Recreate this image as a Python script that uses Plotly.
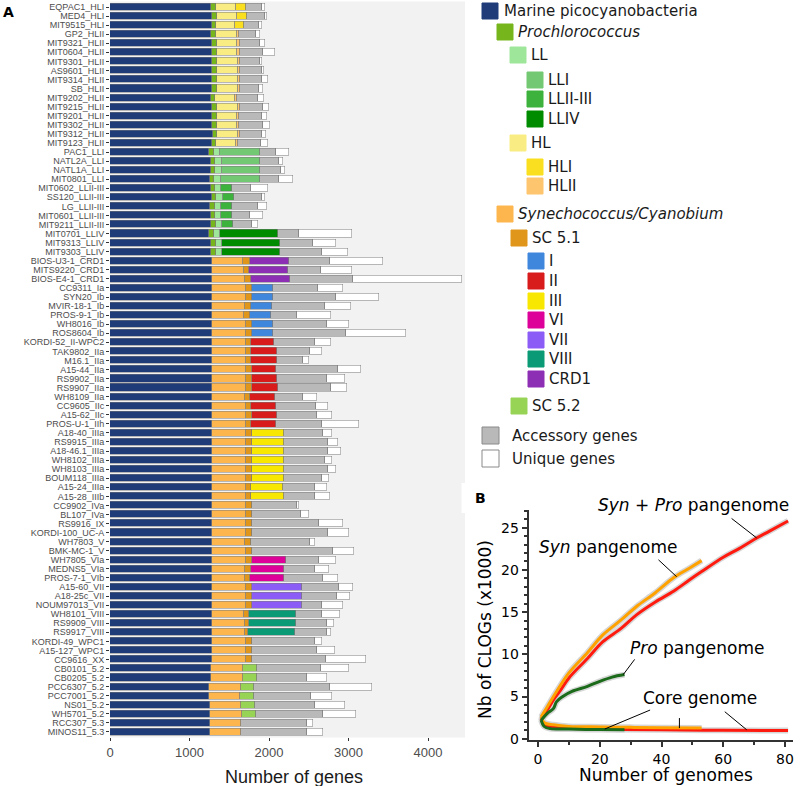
import plotly.graph_objects as go

W, H = 800, 786

# ---------------- Panel A data ----------------
strains = [
    "EQPAC1_HLI", "MED4_HLI", "MIT9515_HLI", "GP2_HLII", "MIT9321_HLII", "MIT0604_HLII",
    "MIT9301_HLII", "AS9601_HLII", "MIT9314_HLII", "SB_HLII", "MIT9202_HLII", "MIT9215_HLII",
    "MIT9201_HLII", "MIT9302_HLII", "MIT9312_HLII", "MIT9123_HLII", "PAC1_LLI", "NATL2A_LLI",
    "NATL1A_LLI", "MIT0801_LLI", "MIT0602_LLII-III", "SS120_LLII-III", "LG_LLII-III",
    "MIT0601_LLII-III", "MIT9211_LLII-III", "MIT0701_LLIV", "MIT9313_LLIV", "MIT9303_LLIV",
    "BIOS-U3-1_CRD1", "MITS9220_CRD1", "BIOS-E4-1_CRD1", "CC9311_Ia", "SYN20_Ib", "MVIR-18-1_Ib",
    "PROS-9-1_Ib", "WH8016_Ib", "ROS8604_Ib", "KORDI-52_II-WPC2", "TAK9802_IIa", "M16.1_IIa",
    "A15-44_IIa", "RS9902_IIa", "RS9907_IIa", "WH8109_IIa", "CC9605_IIc", "A15-62_IIc",
    "PROS-U-1_IIh", "A18-40_IIIa", "RS9915_IIIa", "A18-46.1_IIIa", "WH8102_IIIa", "WH8103_IIIa",
    "BOUM118_IIIa", "A15-24_IIIa", "A15-28_IIIb", "CC9902_IVa", "BL107_IVa", "RS9916_IX",
    "KORDI-100_UC-A", "WH7803_V", "BMK-MC-1_V", "WH7805_VIa", "MEDNS5_VIa", "PROS-7-1_VIb",
    "A15-60_VII", "A18-25c_VII", "NOUM97013_VII", "WH8101_VIII", "RS9909_VIII", "RS9917_VIII",
    "KORDI-49_WPC1", "A15-127_WPC1", "CC9616_XX", "CB0101_5.2", "CB0205_5.2", "PCC6307_5.2",
    "PCC7001_5.2", "NS01_5.2", "WH5701_5.2", "RCC307_5.3", "MINOS11_5.3",
]

genus = ["Prochlorococcus"] * 28 + ["Synechococcus/Cyanobium"] * 53
subgroup = ["HL"] * 16 + ["LL"] * 12 + ["SC 5.1"] * 45 + ["SC 5.2"] * 6 + [None] * 2
clade = (["HLI"] * 3 + ["HLII"] * 13 + ["LLI"] * 4 + ["LLII-III"] * 5 + ["LLIV"] * 3 +
         ["CRD1"] * 3 + ["I"] * 6 + ["II"] * 10 + ["III"] * 8 + [None] * 6 +
         ["VI"] * 3 + ["VII"] * 3 + ["VIII"] * 3 + [None] * 11)

core_marine = [
    1270, 1287, 1283, 1270, 1283, 1283, 1287, 1283, 1283, 1283, 1266, 1283, 1283, 1283, 1291, 1283,
    1249, 1266, 1266, 1258, 1266, 1279, 1258, 1266, 1275, 1249, 1275, 1275,
    1283, 1283, 1283,
    1287, 1287, 1287, 1287, 1287, 1287,
    1287, 1287, 1287, 1287, 1287, 1287, 1287, 1287, 1287, 1287,
    1287, 1287, 1287, 1287, 1287, 1287, 1287, 1287,
    1287, 1287, 1287, 1287, 1287, 1287,
    1287, 1287, 1287,
    1287, 1287, 1287,
    1279, 1283, 1283,
    1287, 1287, 1287,
    1266, 1266, 1249, 1241, 1258, 1258,
    1258, 1258,
]
core_genus = [
    59, 55, 50, 59, 59, 59, 59, 59, 59, 59, 50, 59, 59, 59, 55, 55,
    59, 55, 55, 55, 55, 59, 59, 55, 55, 55, 55, 55,
    394, 403, 411,
    419, 428, 415, 403, 419, 419,
    419, 419, 419, 419, 419, 419, 411, 419, 419, 419,
    428, 428, 419, 419, 419, 419, 419, 419,
    419, 419, 419, 419, 411, 419,
    428, 411, 411,
    428, 428, 428,
    411, 415, 415,
    419, 419, 419,
    403, 403, 394, 390, 394, 407,
    386, 386,
]
core_subgroup = [
    260, 260, 235, 264, 256, 256, 260, 264, 264, 264, 252, 264, 252, 256, 260, 243,
    80, 88, 88, 88, 80, 88, 84, 80, 84, 84, 84, 84,
    80, 63, 84,
    75, 75, 75, 75, 84, 84,
    67, 67, 67, 84, 75, 84, 67, 71, 75, 67,
    75, 75, 84, 84, 84, 84, 71, 71,
    75, 75, 75, 75, 75, 84,
    75, 75, 67,
    75, 75, 75,
    55, 46, 38,
    75, 75, 75,
    176, 176, 168, 176, 168, 168,
    None, None,
]
core_clade = [
    117, 117, 113, 25, 34, 34, 29, 25, 25, 25, 34, 29, 34, 29, 29, 29,
    495, 482, 482, 491, 134, 130, 130, 130, 130, 725, 725, 725,
    491, 486, 482,
    264, 260, 256, 260, 256, 260,
    294, 327, 323, 302, 323, 319, 306, 306, 319, 310,
    394, 394, 394, 394, 394, 394, 398, 407,
    None, None, None, None, None, None,
    419, 419, 419,
    621, 621, 621,
    591, 591, 591,
    None, None, None,
    None, None, None, None, None, None,
    None, None,
]
accessory = [
    201, 235, 189, 214, 252, 298, 247, 281, 285, 239, 264, 294, 281, 294, 273, 294,
    210, 231, 260, 239, 239, 356, 327, 226, 239, 268, 411, 524,
    524, 419, 792,
    566, 792, 671, 327, 679, 914,
    507, 419, 327, 772, 621, 671, 352, 512, 503, 579,
    491, 553, 562, 516, 553, 478, 398, 398,
    574, 616, 843, 956, 738, 1019,
    423, 382, 491,
    465, 440, 260,
    327, 390, 398,
    792, 826, 931,
    809, 629, 952, 725, 759, 843,
    834, 839,
]
unique = [
    42, 17, 46, 50, 63, 143, 29, 21, 67, 59, 75, 67, 63, 88, 59, 88,
    164, 50, 46, 168, 218, 34, 113, 168, 80, 667, 289, 327,
    667, 390, 1380,
    323, 545, 331, 428, 277, 763,
    210, 143, 84, 294, 231, 197, 180, 143, 184, 465,
    122, 130, 164, 88, 101, 88, 151, 184,
    25, 101, 302, 273, 71, 264,
    214, 176, 197,
    184, 164, 264,
    226, 88, 55,
    96, 226, 503,
    356, 252, 528, 264, 382, 415,
    80, 193,
]

gene_ticks = [0, 1000, 2000, 3000, 4000]

colors = {
    "Marine picocyanobacteria": "#1f3c78",
    "Prochlorococcus": "#76b51c",
    "LL": "#9ee69a",
    "LLI": "#73c973",
    "LLII-III": "#3db23d",
    "LLIV": "#008c00",
    "HL": "#f8ec82",
    "HLI": "#f9df1f",
    "HLII": "#fec56f",
    "Synechococcus/Cyanobium": "#fdb64e",
    "SC 5.1": "#df961a",
    "I": "#3f87dc",
    "II": "#d81b1b",
    "III": "#f8e700",
    "VI": "#dd0099",
    "VII": "#8c5cf7",
    "VIII": "#0a9a75",
    "CRD1": "#8d2fb5",
    "SC 5.2": "#97d456",
    "Accessory genes": "#b9b9b9",
    "Unique genes": "#ffffff",
}

# ---------------- Panel B data ----------------
synpro_pan_x = [1, 3, 5, 7, 10, 16, 21, 27, 32, 38, 44, 49, 53, 60, 65, 70, 75, 81]
synpro_pan_y = [2.4, 3.4, 4.6, 5.6, 7.2, 9.5, 11.5, 13.1, 14.7, 16.2, 17.5, 18.8, 19.8, 21.5, 22.5, 23.6, 24.6, 25.8]
syn_pan_x = [1, 3, 6, 10, 16, 21, 27, 32, 38, 44, 49, 53]
syn_pan_y = [2.6, 3.8, 5.6, 7.8, 10.2, 12.3, 14.1, 15.7, 17.3, 19.1, 20.2, 21.1]
pro_pan_x = [1, 3, 5, 6, 8, 11, 16, 20, 24, 28]
pro_pan_y = [2.2, 3.0, 3.6, 4.4, 5.0, 5.6, 6.2, 6.8, 7.3, 7.6]
synpro_core_x = [1, 2, 5, 10, 20, 28, 40, 60, 81]
synpro_core_y = [2.4, 1.7, 1.4, 1.25, 1.15, 1.1, 1.05, 1.0, 0.98]
syn_core_x = [1, 2, 5, 10, 21, 30, 40, 53]
syn_core_y = [2.6, 1.9, 1.65, 1.45, 1.4, 1.35, 1.3, 1.26]
pro_core_x = [1, 2, 4, 10, 20, 28]
pro_core_y = [2.2, 1.45, 1.2, 1.15, 1.08, 1.05]

# ---------------- helpers ----------------
def px(x):
    return x / W


def py(y):
    return 1 - y / H


fig = go.Figure()

ypos = list(range(len(strains)))
segments = [
    (core_marine, [colors["Marine picocyanobacteria"]] * len(strains)),
    (core_genus, [colors[g] for g in genus]),
    (core_subgroup, [colors[s] if s else "#ffffff" for s in subgroup]),
    (core_clade, [colors[c] if c else "#ffffff" for c in clade]),
    (accessory, [colors["Accessory genes"]] * len(strains)),
    (unique, [colors["Unique genes"]] * len(strains)),
]
for vals, cols in segments:
    fig.add_trace(go.Bar(
        y=ypos, x=vals, orientation="h", width=0.78,
        marker=dict(color=cols, line=dict(color="#7a7a7a", width=0.5)),
        xaxis="x", yaxis="y", showlegend=False, hoverinfo="x+y",
    ))

# Panel B: gray bands then lines
bands = [(synpro_pan_x, synpro_pan_y), (syn_pan_x, syn_pan_y), (pro_pan_x, pro_pan_y),
         (synpro_core_x, synpro_core_y), (syn_core_x, syn_core_y), (pro_core_x, pro_core_y)]
for bx, by in bands:
    fig.add_trace(go.Scatter(x=bx, y=by, mode="lines", line=dict(color="#d6d6d6", width=6, shape="spline"),
                             xaxis="x2", yaxis="y2", showlegend=False, hoverinfo="skip"))
lines = [
    (synpro_pan_x, synpro_pan_y, "#ff1a0f"),
    (synpro_core_x, synpro_core_y, "#ff1a0f"),
    (syn_pan_x, syn_pan_y, "#ffa200"),
    (syn_core_x, syn_core_y, "#ffa200"),
    (pro_pan_x, pro_pan_y, "#1b6b1b"),
    (pro_core_x, pro_core_y, "#1b6b1b"),
]
for lx, ly, c in lines:
    fig.add_trace(go.Scatter(x=lx, y=ly, mode="lines", line=dict(color=c, width=3, shape="spline"),
                             xaxis="x2", yaxis="y2", showlegend=False))

shapes = []
annotations = []

# Panel A background
shapes.append(dict(type="rect", xref="x domain", yref="y domain", x0=0, x1=1, y0=0, y1=1,
                   fillcolor="#f2f2f2", line=dict(width=0), layer="below"))
shapes.append(dict(type="rect", xref="paper", yref="paper", x0=px(461.5), x1=px(470), y0=py(513), y1=py(483),
                   fillcolor="#ffffff", line=dict(width=0), layer="below"))

# Custom legend
legend_items = [
    ("Marine picocyanobacteria", 482, 11, 502, False),
    ("Prochlorococcus", 497, 32, 516, True),
    ("LL", 510, 55, 529, False),
    ("LLI", 527, 80, 546, False),
    ("LLII-III", 527, 99, 546, False),
    ("LLIV", 527, 119, 546, False),
    ("HL", 510, 143, 529, False),
    ("HLI", 527, 167, 546, False),
    ("HLII", 527, 186, 546, False),
    ("Synechococcus/Cyanobium", 497, 214, 516, True),
    ("SC 5.1", 511, 238, 530, False),
    ("I", 528, 261, 547, False),
    ("II", 528, 281, 547, False),
    ("III", 528, 301, 547, False),
    ("VI", 528, 320, 547, False),
    ("VII", 528, 340, 547, False),
    ("VIII", 528, 359, 547, False),
    ("CRD1", 528, 379, 547, False),
    ("SC 5.2", 511, 406, 530, False),
    ("Accessory genes", 482, 435.5, 510, False),
    ("Unique genes", 482, 458.5, 510, False),
]
for name, sx, cy, tx, ital in legend_items:
    size = 17 if name in ("Accessory genes", "Unique genes") else 16
    edge = "#8a8a8a" if name in ("Accessory genes", "Unique genes") else colors[name]
    shapes.append(dict(type="rect", xref="paper", yref="paper",
                       x0=px(sx), x1=px(sx + size), y0=py(cy + size / 2), y1=py(cy - size / 2),
                       fillcolor=colors[name], line=dict(color=edge, width=1)))
    text = f"<i>{name}</i>" if ital else name
    annotations.append(dict(xref="paper", yref="paper", x=px(tx), y=py(cy), text=text, showarrow=False,
                            xanchor="left", yanchor="middle",
                            font=dict(family="DejaVu Sans", size=15, color="#1a1a1a")))

# Panel labels and titles
annotations += [
    dict(xref="paper", yref="paper", x=px(8), y=py(11.5), text="<b>A</b>", showarrow=False,
         xanchor="center", yanchor="middle", font=dict(family="DejaVu Sans", size=14, color="#000")),
    dict(xref="paper", yref="paper", x=px(481), y=py(498), text="<b>B</b>", showarrow=False,
         xanchor="center", yanchor="middle", font=dict(family="DejaVu Sans", size=14, color="#000")),
    dict(xref="paper", yref="paper", x=px(293.5), y=py(777), text="Number of genes", showarrow=False,
         xanchor="center", yanchor="middle", font=dict(family="Liberation Sans", size=18, color="#1a1a1a")),
    dict(xref="paper", yref="paper", x=px(665.5), y=py(775), text="Number of genomes", showarrow=False,
         xanchor="center", yanchor="middle", font=dict(family="DejaVu Sans", size=17, color="#000")),
    dict(xref="paper", yref="paper", x=px(485), y=py(629), text="Nb of CLOGs (x1000)", showarrow=False,
         textangle=-90, xanchor="center", yanchor="middle", font=dict(family="DejaVu Sans", size=17, color="#000")),
]

# Panel B curve labels and leader lines
bfont = dict(family="DejaVu Sans", size=17, color="#000")
annotations += [
    dict(xref="paper", yref="paper", x=px(693), y=py(505), text="<i>Syn</i> + <i>Pro</i> pangenome",
         showarrow=False, xanchor="center", yanchor="middle", font=bfont),
    dict(xref="paper", yref="paper", x=px(607.5), y=py(546.5), text="<i>Syn</i> pangenome",
         showarrow=False, xanchor="center", yanchor="middle", font=bfont),
    dict(xref="paper", yref="paper", x=px(697), y=py(648), text="<i>Pro</i> pangenome",
         showarrow=False, xanchor="center", yanchor="middle", font=bfont),
    dict(xref="paper", yref="paper", x=px(700), y=py(698), text="Core genome",
         showarrow=False, xanchor="center", yanchor="middle", font=bfont),
]
leaders = [
    (62.7, 26.1, 70.8, 23.8),
    (39.0, 21.2, 44.9, 19.2),
    (31.3, 9.4, 27.6, 7.6),
    (36.3, 3.4, 21.6, 1.15),
    (45.8, 2.45, 45.8, 1.26),
    (60.5, 3.2, 67.6, 1.06),
]
for x0, y0, x1, y1 in leaders:
    shapes.append(dict(type="line", xref="x2", yref="y2", x0=x0, y0=y0, x1=x1, y1=y1,
                       line=dict(color="#000", width=1)))

fig.update_layout(
    width=W, height=H,
    margin=dict(l=0, r=0, t=0, b=0),
    paper_bgcolor="#ffffff", plot_bgcolor="rgba(0,0,0,0)",
    barmode="stack", bargap=0,
    showlegend=False,
    shapes=shapes, annotations=annotations,
    xaxis=dict(domain=[px(110), px(465)], range=[0, 4465], anchor="y",
               tickvals=gene_ticks, ticks="outside", ticklen=3, tickcolor="#333",
               tickfont=dict(family="Liberation Sans", size=13, color="#4d4d4d"),
               showgrid=False, zeroline=False, showline=False, automargin=False),
    yaxis=dict(domain=[py(737.4), py(1.6)], range=[80.6, -0.6], anchor="x",
               tickvals=ypos, ticktext=strains, ticks="outside", ticklen=3, tickcolor="#333",
               tickfont=dict(family="Liberation Sans", size=9, color="#4d4d4d"),
               showgrid=False, zeroline=False, showline=False, automargin=False),
    xaxis2=dict(domain=[px(528.5), px(793)], range=[-3.1, 82.6], anchor="y2",
                tick0=0, dtick=20, ticks="outside", ticklen=5, tickwidth=1.5, tickcolor="#333",
                minor=dict(dtick=10, tick0=0, ticks="outside", ticklen=3, tickcolor="#333", showgrid=False),
                tickfont=dict(family="DejaVu Sans", size=14, color="#000"),
                showline=True, linecolor="#333", linewidth=1.5,
                showgrid=False, zeroline=False, automargin=False),
    yaxis2=dict(domain=[py(740), py(510)], range=[-0.15, 27.1], anchor="x2",
                tick0=0, dtick=5, ticks="outside", ticklen=5, tickwidth=1.5, tickcolor="#333",
                minor=dict(dtick=1, tick0=0, ticks="outside", ticklen=3, tickcolor="#333", showgrid=False),
                tickfont=dict(family="DejaVu Sans", size=14, color="#000"),
                showline=True, linecolor="#333", linewidth=1.5,
                showgrid=False, zeroline=False, automargin=False),
)

fig.write_html("out.html", config={"displayModeBar": False},
               post_script="document.body.style.margin='0px';")
